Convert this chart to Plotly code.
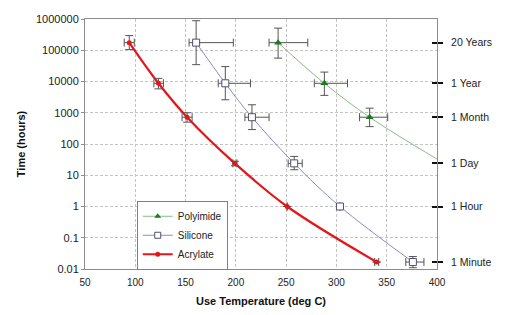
import plotly.graph_objects as go

# ---------------- data ----------------
acr_x = [94, 123, 151.5, 199, 251, 340]
acr_y = [175200, 8760, 720, 24, 1, 0.0167]
acr_xm = [5, 4.5, 5, 2, 0, 2]
acr_xp = [5, 5, 5, 2, 0, 2]
acr_yhi = [295000, 12600, 1000, 28, 1, 0.0167]
acr_ylo = [105000, 5800, 500, 20, 1, 0.0167]

sil_x = [160.5, 189.5, 216, 258, 303.5, 376]
sil_y = [175200, 8760, 720, 24, 1, 0.0167]
sil_xm = [7, 7, 7, 6, 0, 7]
sil_xp = [37, 25, 17, 8, 0, 11]
sil_yhi = [880000, 30000, 1800, 40, 1, 0.025]
sil_ylo = [34600, 2600, 290, 15, 1, 0.011]

pol_x = [242, 288, 333]
pol_y = [175200, 8760, 720]
pol_xm = [9, 10, 10]
pol_xp = [29.5, 23, 18]
pol_yhi = [510000, 20000, 1400]
pol_ylo = [56000, 3600, 360]
# extrapolated trend line of polyimide
pol_line_x = [242, 288, 333, 400]
pol_line_y = [175200, 8760, 720, 33]

y_tickvals = [0.01, 0.1, 1, 10, 100, 1000, 10000, 100000, 1000000]
y_ticktext = ["0.01", "0.1", "1", "10", "100", "1000", "10000", "100000", "1000000"]
x_tickvals = [50, 100, 150, 200, 250, 300, 350, 400]

time_hours = [175200, 8760, 720, 24, 1, 1 / 60]
time_labels = ["20 Years", "1 Year", "1 Month", "1 Day", "1 Hour", "1 Minute"]

# ---------------- styles ----------------
RED = "#e3161c"
SIL_LINE = "#8a8ac4"
SIL_MK = "#4f4f6f"
GRN_LINE = "#86bd86"
GRN_MK = "#1d7a1d"
ERR = "#555555"
FONT = "Liberation Sans, Arial, sans-serif"


def plus(vals, ref):
    return [v - r for v, r in zip(vals, ref)]


def minus(vals, ref):
    return [r - v for v, r in zip(vals, ref)]


fig = go.Figure()

# lines
fig.add_trace(go.Scatter(x=acr_x, y=acr_y, mode="lines", line=dict(color=RED, width=2.2, shape="spline"),
                         showlegend=False, hoverinfo="skip"))
fig.add_trace(go.Scatter(x=sil_x, y=sil_y, mode="lines", line=dict(color=SIL_LINE, width=1, shape="spline"),
                         showlegend=False, hoverinfo="skip"))
fig.add_trace(go.Scatter(x=pol_line_x, y=pol_line_y, mode="lines", line=dict(color=GRN_LINE, width=1, shape="spline"),
                         showlegend=False, hoverinfo="skip"))

err_style = dict(color=ERR, thickness=1, width=4)

# markers with error bars
fig.add_trace(go.Scatter(
    x=acr_x, y=acr_y, mode="markers", showlegend=False,
    marker=dict(symbol="circle", size=5, color=RED),
    error_x=dict(type="data", symmetric=False, array=acr_xp, arrayminus=acr_xm, **err_style),
    error_y=dict(type="data", symmetric=False, array=plus(acr_yhi, acr_y), arrayminus=minus(acr_ylo, acr_y), **err_style),
))
fig.add_trace(go.Scatter(
    x=sil_x, y=sil_y, mode="markers", showlegend=False,
    marker=dict(symbol="square", size=7, color="white", line=dict(color=SIL_MK, width=1)),
    error_x=dict(type="data", symmetric=False, array=sil_xp, arrayminus=sil_xm, **err_style),
    error_y=dict(type="data", symmetric=False, array=plus(sil_yhi, sil_y), arrayminus=minus(sil_ylo, sil_y), **err_style),
))
fig.add_trace(go.Scatter(
    x=pol_x, y=pol_y, mode="markers", showlegend=False,
    marker=dict(symbol="triangle-up", size=7, color=GRN_MK),
    error_x=dict(type="data", symmetric=False, array=pol_xp, arrayminus=pol_xm, **err_style),
    error_y=dict(type="data", symmetric=False, array=plus(pol_yhi, pol_y), arrayminus=minus(pol_ylo, pol_y), **err_style),
))

# legend entries
fig.add_trace(go.Scatter(x=[None], y=[None], mode="lines+markers", name="Polyimide",
                         line=dict(color=GRN_LINE, width=1), marker=dict(symbol="triangle-up", size=6, color=GRN_MK)))
fig.add_trace(go.Scatter(x=[None], y=[None], mode="lines+markers", name="Silicone",
                         line=dict(color=SIL_LINE, width=1),
                         marker=dict(symbol="square", size=6, color="white", line=dict(color=SIL_MK, width=1))))
fig.add_trace(go.Scatter(x=[None], y=[None], mode="lines+markers", name="Acrylate",
                         line=dict(color=RED, width=2), marker=dict(symbol="circle", size=5, color=RED)))

# right-side time axis (crossing ticks via two overlaid axes)
fig.add_trace(go.Scatter(x=[None], y=[None], yaxis="y2", showlegend=False))
fig.add_trace(go.Scatter(x=[None], y=[None], yaxis="y3", showlegend=False))

# the page body has an 8px default margin, so the figure is 8px smaller and its margins shifted
fig.update_layout(
    width=504, height=307,
    margin=dict(l=77, r=75, t=11, b=46, autoexpand=False),
    paper_bgcolor="white", plot_bgcolor="white",
    font=dict(family=FONT, size=10, color="#222222"),
    xaxis=dict(
        range=[50, 400], tickvals=x_tickvals, showline=True, linecolor="#8c8c8c", linewidth=1, mirror=True,
        showgrid=True, gridcolor="#c4c4c4", griddash="3px,2px", gridwidth=1, zeroline=False,
        ticks="", ticklabelstandoff=4, automargin=False,
        title=dict(text="<b>Use Temperature (deg C)</b>", font=dict(size=11, color="#111111"), standoff=10),
    ),
    yaxis=dict(
        type="log", range=[-2, 6], tickvals=y_tickvals, ticktext=y_ticktext,
        showline=True, linecolor="#8c8c8c", linewidth=1, mirror=True,
        showgrid=True, gridcolor="#c4c4c4", griddash="3px,2px", gridwidth=1, zeroline=False,
        ticks="outside", ticklen=3, tickcolor="#8c8c8c", automargin=False, tickfont=dict(size=11),
        title=dict(text="<b>Time (hours)</b>", font=dict(size=11, color="#111111"), standoff=8),
    ),
    yaxis2=dict(
        type="log", range=[-2, 6], overlaying="y", side="right", tickvals=time_hours, ticktext=time_labels,
        ticks="outside", ticklen=5, tickwidth=2, tickcolor="#111111", showgrid=False, showline=False,
        zeroline=False, ticklabelstandoff=6, automargin=False, tickfont=dict(size=10.5),
    ),
    yaxis3=dict(
        type="log", range=[-2, 6], overlaying="y", side="right", tickvals=time_hours,
        ticks="inside", ticklen=5, tickwidth=2, tickcolor="#111111", showgrid=False, showline=False,
        zeroline=False, showticklabels=False, automargin=False,
    ),
    legend=dict(
        x=0.147, y=0.273, xanchor="left", yanchor="top", bgcolor="white",
        bordercolor="#808080", borderwidth=1, font=dict(size=10), tracegroupgap=0, itemwidth=30,
    ),
)

fig.write_html("out.html")
